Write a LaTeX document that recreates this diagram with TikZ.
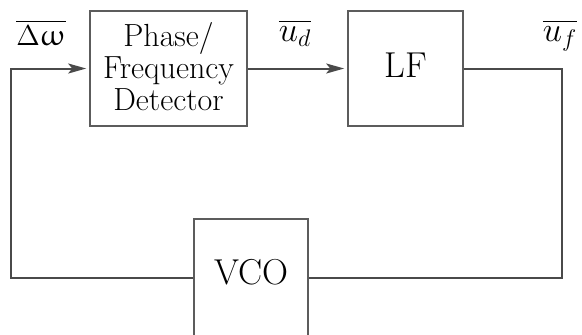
\documentclass[tikz,border=0pt]{standalone}
\usepackage{amsmath}
\usepackage{upgreek}
\usetikzlibrary{arrows.meta,positioning}
\definecolor{ink}{HTML}{4A4A4A}
\definecolor{edge}{HTML}{5C5C5C}
\tikzset{
  blk/.style={draw=edge,line width=0.8pt,minimum width=#1,minimum height=57.5pt,inner sep=0pt,
              align=center,font=\fontsize{18}{19}\selectfont},
  blk/.default=57.5pt,
  sig/.style={line width=1pt,draw=ink},
  sigarr/.style={sig,-{Stealth[length=9pt,width=5pt,inset=2pt]},shorten >=1.5pt},
  var/.style={anchor=base,font=\fontsize{#1}{16}\selectfont,inner sep=0pt},
  var/.default=15,
}

\begin{document}
\begin{tikzpicture}[x=0.5pt,y=-0.5pt]
  \clip (0,0) rectangle (582,334);
  \useasboundingbox (0,0) rectangle (582,334);
  \node[blk=78.5pt,font=\fontsize{16}{15.8}\selectfont,text depth=2pt] (pfd) at (168.5,68.5) {Phase/\\Frequency\\Detector};
  \node[blk,text depth=3.5pt] (lf) at (405.5,68.5) {LF};
  \node[blk=57pt,minimum height=58.7pt,text depth=6pt] (vco) at (251,277.7) {VCO};
  \coordinate (fbl) at (10.7,277.7);
  \coordinate (fbr) at (562,277.7);
  \draw[sigarr] (vco.west) -- (fbl) |- (pfd.west);
  \draw[sigarr] (pfd.east) -- (lf.west);
  \draw[sig] (lf.east) -| (fbr) -- (vco.east);
  \node[var] (dw) at (41,45) {$\overline{\Delta\upomega}$};
  \node[var=18] (ud) at (295,41) {$\overline{u_d}$};
  \node[var=18] (uf) at (560,41) {$\overline{u_f}$};
\end{tikzpicture}
\end{document}
